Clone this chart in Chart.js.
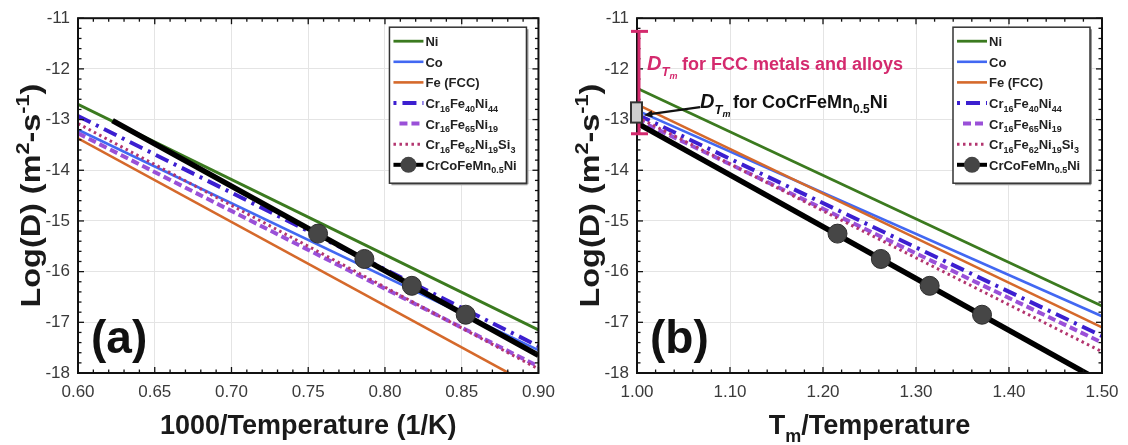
<!DOCTYPE html>
<html>
<head>
<meta charset="utf-8">
<script src="https://cdn.jsdelivr.net/npm/chart.js@4.4.1/dist/chart.umd.min.js"></script>
<style>
  html, body { margin: 0; padding: 0; background: #fff; }
  #wrap { position: relative; width: 1128px; height: 445px; }
  #wrap canvas { position: absolute; top: 0; }
</style>
</head>
<body>
<div id="wrap">
  <canvas id="canvasA" width="564" height="445" style="left:0"></canvas>
  <canvas id="canvasB" width="564" height="445" style="left:564px"></canvas>
</div>
<script>
// legend names (_{..} = subscript, ^{..} = superscript)
var legendNames = ['Ni', 'Co', 'Fe (FCC)', 'Cr_{16}Fe_{40}Ni_{44}', 'Cr_{16}Fe_{65}Ni_{19}',
                   'Cr_{16}Fe_{62}Ni_{19}Si_{3}', 'CrCoFeMn_{0.5}Ni'];

// panel (a): 1000/T, line end points
var xEndsA = [0.60, 0.90];
var niA    = [-12.70, -17.15];
var coA    = [-13.20, -17.55];
var feA    = [-13.37, -18.32];
var cfn44A = [-12.93, -17.47];
var cfn19A = [-13.27, -17.87];
var cfnsA  = [-13.08, -17.92];
var heaXA  = [0.6225, 0.90];
var heaA   = [-13.02, -17.65];
var dotXA  = [0.7564, 0.7866, 0.8175, 0.8526];
var dotY   = [-15.25, -15.75, -16.28, -16.85];

// panel (b): Tm/T
var xEndsB = [1.00, 1.50];
var niB    = [-12.38, -16.68];
var coB    = [-12.82, -16.88];
var feB    = [-12.70, -17.10];
var cfn44B = [-12.90, -17.27];
var cfn19B = [-13.00, -17.40];
var cfnsB  = [-12.95, -17.58];
var heaXB  = [1.00, 1.50];
var heaB   = [-13.07, -18.18];
var dotXB  = [1.2156, 1.2622, 1.3147, 1.3710];

// annotation values in panel (b)
var fccRange = [-11.26, -13.28];
var heaTmBox = [-12.66, -13.06];

var lineColors = ['#3b7a1f', '#4268f2', '#d5692b', '#3c1fd0', '#9a50d8', '#b3356f', '#000000'];
var lineWidths = [2.8, 2.6, 2.6, 4, 4, 3, 5.5];
var lineDashes = [[], [], [], [14, 6, 3, 6], [8, 4], [2.5, 3.5], []];

const FONT = '"Liberation Sans", Arial, sans-serif';

function parseRich(str, size, weight) {
  var out = [];
  str.split(/(_\{[^}]*\}|\^\{[^}]*\})/).forEach(function (p) {
    if (!p) return;
    var small = weight + ' ' + Math.round(size * 0.66) + 'px ' + FONT;
    if (p[0] === '_' && p[1] === '{') out.push({ t: p.slice(2, -1), f: small, dy: size * 0.28 });
    else if (p[0] === '^' && p[1] === '{') out.push({ t: p.slice(2, -1), f: small, dy: -size * 0.42 });
    else out.push({ t: p, f: weight + ' ' + size + 'px ' + FONT, dy: 0 });
  });
  return out;
}

function drawRich(ctx, segs, x, y, align) {
  var w = 0;
  segs.forEach(function (s) { ctx.font = s.f; w += ctx.measureText(s.t).width; });
  var cx = align === 'center' ? x - w / 2 : x;
  ctx.textAlign = 'left';
  ctx.textBaseline = 'alphabetic';
  segs.forEach(function (s) {
    ctx.font = s.f;
    ctx.fillText(s.t, cx, y + (s.dy || 0));
    cx += ctx.measureText(s.t).width;
  });
}

function seg(ctx, x1, y1, x2, y2) {
  ctx.beginPath(); ctx.moveTo(x1, y1); ctx.lineTo(x2, y2); ctx.stroke();
}

function decorate(chart, p) {
  var ctx = chart.ctx, a = chart.chartArea, xs = chart.scales.x, ys = chart.scales.y;
  ctx.save();

  // ticks on all four sides
  ctx.strokeStyle = '#111';
  ctx.lineWidth = 1.3;
  var nx = Math.round((xs.max - xs.min) / (p.step / 5));
  for (let i = 0; i <= nx; i++) {
    var px = xs.getPixelForValue(xs.min + i * p.step / 5);
    var len = i % 5 === 0 ? 6 : 3.5;
    seg(ctx, px, a.bottom, px, a.bottom - len);
    seg(ctx, px, a.top, px, a.top + len);
  }
  for (let i = 0; i <= 35; i++) {
    var py = ys.getPixelForValue(-18 + i * 0.2);
    var len2 = i % 5 === 0 ? 6 : 3.5;
    seg(ctx, a.left, py, a.left + len2, py);
    seg(ctx, a.right, py, a.right - len2, py);
  }
  ctx.lineWidth = 2;
  ctx.strokeStyle = '#111';
  ctx.strokeRect(a.left, a.top, a.right - a.left, a.bottom - a.top);

  // axis titles
  ctx.fillStyle = '#1a1a1a';
  drawRich(ctx, parseRich(p.xTitle, 27, 'bold'), (a.left + a.right) / 2, 434, 'center');
  ctx.save();
  ctx.translate(a.left - 38, (a.top + a.bottom) / 2);
  ctx.rotate(-Math.PI / 2);
  ctx.scale(1.2, 1);
  drawRich(ctx, parseRich('Log(D) (m^{2}-s^{-1})', 27, 'bold'), 0, 0, 'center');
  ctx.restore();

  // panel label
  ctx.fillStyle = '#111';
  ctx.font = 'bold 46px ' + FONT;
  ctx.textAlign = 'left';
  ctx.fillText(p.tag, a.left + 13, a.bottom - 20);

  // legend
  var L = a.right - 149, T = a.top + 9, W = 137, H = 156;
  ctx.fillStyle = '#fff';
  ctx.fillRect(L, T, W, H);
  ctx.strokeStyle = '#999';
  ctx.lineWidth = 2;
  seg(ctx, L + 2, T + H + 1, L + W + 1, T + H + 1);
  seg(ctx, L + W + 1, T + 2, L + W + 1, T + H + 1);
  ctx.strokeStyle = '#333';
  ctx.lineWidth = 1.5;
  ctx.strokeRect(L, T, W, H);
  for (let i = 0; i < 7; i++) {
    var ry = T + 14 + i * 20.6;
    ctx.strokeStyle = lineColors[i];
    ctx.lineWidth = Math.min(lineWidths[i], 4);
    ctx.setLineDash(lineDashes[i]);
    ctx.lineDashOffset = i === 3 ? 20 : 0;
    seg(ctx, L + (i === 4 ? 10 : 4), ry, L + 34, ry);
    ctx.setLineDash([]);
    if (i === 6) {
      ctx.fillStyle = '#454545';
      ctx.beginPath(); ctx.arc(L + 19, ry, 8, 0, Math.PI * 2); ctx.fill();
    }
    ctx.fillStyle = '#222';
    drawRich(ctx, parseRich(legendNames[i], 13, 'bold'), L + 36, ry + 5, 'left');
  }

  if (p.extras) {
    var x0 = a.left;
    var yT = ys.getPixelForValue(fccRange[0]), yB = ys.getPixelForValue(fccRange[1]);
    ctx.strokeStyle = '#d42a6e';
    ctx.lineWidth = 3;
    seg(ctx, x0 + 2, yT, x0 + 2, yB);
    seg(ctx, x0 - 6, yT, x0 + 11, yT);
    seg(ctx, x0 - 6, yB, x0 + 11, yB);

    var r1 = ys.getPixelForValue(heaTmBox[0]), r2 = ys.getPixelForValue(heaTmBox[1]);
    ctx.fillStyle = '#cfcfcf';
    ctx.fillRect(x0 - 6, r1, 11, r2 - r1);
    ctx.strokeStyle = '#333';
    ctx.lineWidth = 2;
    ctx.strokeRect(x0 - 6, r1, 11, r2 - r1);

    // arrow to the box
    var sx = x0 + 63, sy = a.top + 89, ex = x0 + 7, ey = a.top + 97;
    ctx.strokeStyle = '#111';
    ctx.lineWidth = 2.2;
    seg(ctx, sx, sy, ex + 6, ey - 1);
    var ang = Math.atan2(ey - sy, ex - sx);
    ctx.fillStyle = '#111';
    ctx.beginPath();
    ctx.moveTo(ex, ey);
    ctx.lineTo(ex - 9 * Math.cos(ang - 0.4), ey - 9 * Math.sin(ang - 0.4));
    ctx.lineTo(ex - 9 * Math.cos(ang + 0.4), ey - 9 * Math.sin(ang + 0.4));
    ctx.closePath(); ctx.fill();

    // D_Tm labels
    function dtm(x, y, color) {
      ctx.fillStyle = color;
      drawRich(ctx, [
        { t: 'D', f: 'italic bold 20px ' + FONT, dy: 0 },
        { t: 'T', f: 'italic bold 13px ' + FONT, dy: 6 },
        { t: 'm', f: 'italic bold 9px ' + FONT, dy: 9 }
      ], x, y, 'left');
    }
    dtm(x0 + 10, a.top + 52, '#d42a6e');
    ctx.fillStyle = '#d42a6e';
    drawRich(ctx, parseRich('for FCC metals and alloys', 18, 'bold'), x0 + 45, a.top + 52, 'left');
    dtm(x0 + 63, a.top + 90, '#111');
    ctx.fillStyle = '#111';
    drawRich(ctx, parseRich('for CoCrFeMn_{0.5}Ni', 18, 'bold'), x0 + 96, a.top + 90, 'left');
  }
  ctx.restore();
}

function buildChart(id, p) {
  var datasets = [];
  for (let i = 0; i < 6; i++) {
    datasets.push({
      label: legendNames[i],
      data: [{ x: p.xEnds[0], y: p.series[i][0] }, { x: p.xEnds[1], y: p.series[i][1] }],
      showLine: true,
      borderColor: lineColors[i],
      borderWidth: lineWidths[i],
      borderDash: lineDashes[i],
      pointRadius: 0,
      clip: 0,
      order: 8 - i
    });
  }
  datasets.push({
    label: legendNames[6],
    data: [{ x: p.heaX[0], y: p.hea[0] }, { x: p.heaX[1], y: p.hea[1] }],
    showLine: true, borderColor: '#000', borderWidth: lineWidths[6],
    pointRadius: 0, clip: 0, order: 1
  });
  datasets.push({
    label: legendNames[6] + ' points',
    data: p.dotX.map(function (x, i) { return { x: x, y: dotY[i] }; }),
    showLine: false, pointRadius: 9.5, pointBackgroundColor: '#464646',
    pointBorderColor: '#2e2e2e', pointBorderWidth: 1, clip: false, order: 0
  });

  new Chart(document.getElementById(id), {
    type: 'scatter',
    data: { datasets: datasets },
    options: {
      responsive: false,
      animation: false,
      devicePixelRatio: 1,
      layout: { autoPadding: false, padding: { left: 0, right: p.padRight, top: 10, bottom: 0 } },
      plugins: { legend: { display: false }, tooltip: { enabled: false } },
      scales: {
        x: {
          type: 'linear', min: p.xMin, max: p.xMax,
          ticks: {
            stepSize: p.step, autoSkip: false, maxRotation: 0, padding: 9,
            color: '#3a3a3a', font: { family: FONT, size: 17 },
            callback: function (v) { return v.toFixed(2); }
          },
          grid: { color: '#e4e4e4', lineWidth: 1, drawTicks: false },
          border: { display: false },
          afterFit: function (s) { s.height = 72; }
        },
        y: {
          min: -18, max: -11,
          ticks: { stepSize: 1, padding: 8, color: '#3a3a3a', font: { family: FONT, size: 17 } },
          grid: { color: '#e4e4e4', lineWidth: 1, drawTicks: false },
          border: { display: false },
          afterFit: function (s) { s.width = p.yWidth; }
        }
      }
    },
    plugins: [{ id: 'decor', afterDatasetsDraw: function (chart) { decorate(chart, p); } }]
  });
}

buildChart('canvasA', {
  xMin: 0.60, xMax: 0.90, step: 0.05, xEnds: xEndsA,
  series: [niA, coA, feA, cfn44A, cfn19A, cfnsA],
  heaX: heaXA, hea: heaA, dotX: dotXA,
  yWidth: 78, padRight: 20, tag: '(a)', xTitle: '1000/Temperature (1/K)', extras: false
});

buildChart('canvasB', {
  xMin: 1.00, xMax: 1.50, step: 0.10, xEnds: xEndsB,
  series: [niB, coB, feB, cfn44B, cfn19B, cfnsB],
  heaX: heaXB, hea: heaB, dotX: dotXB,
  yWidth: 73, padRight: 26, tag: '(b)', xTitle: 'T_{m}/Temperature', extras: true
});
</script>
</body>
</html>
